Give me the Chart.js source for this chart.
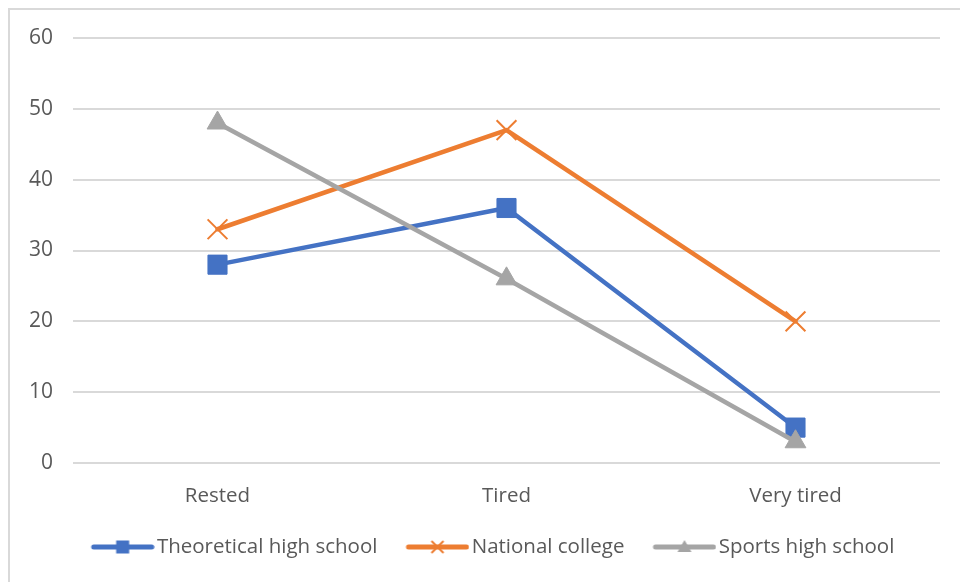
<!DOCTYPE html>
<html>
<head>
<meta charset="utf-8">
<script src="https://cdn.jsdelivr.net/npm/chart.js@4.4.1/dist/chart.umd.min.js"></script>
<style>
    html, body { margin: 0; padding: 0; background: #fff; overflow: hidden; }
    #marco { position: absolute; left: 8px; top: 8px; width: 1000px; height: 700px; border: 2px solid #d9d9d9; box-sizing: border-box; }
    #caja { position: absolute; left: 0; top: 0; width: 960px; height: 582px; }
</style>
</head>
<body>
<div id="marco"></div>
<div id="caja"><canvas id="grafico"></canvas></div>
<script>
// datos
const categorias = ["Rested", "Tired", "Very tired"];
const teorico = [28, 36, 5];
const nacional = [33, 47, 20];
const deportivo = [48, 26, 3];
const marcasY = [0, 10, 20, 30, 40, 50, 60];
const nombres = ["Theoretical high school", "National college", "Sports high school"];

const AZUL = "#4472c4";
const NARANJA = "#ed7d31";
const GRIS = "#a5a5a5";
const TEXTO = "#595959";
const FUENTE = { family: "'Open Sans', sans-serif", size: 20.5 };

// muestra de leyenda: linea + marcador, como en Excel
function muestraLeyenda(color, forma) {
    const c = document.createElement("canvas");
    c.width = 90;
    c.height = 22;
    const ctx = c.getContext("2d");
    const cx = 58, cy = 11;

    ctx.strokeStyle = color;
    ctx.fillStyle = color;
    ctx.lineCap = "round";
    ctx.lineWidth = 5;
    ctx.beginPath();
    ctx.moveTo(29, cy);
    ctx.lineTo(87, cy);
    ctx.stroke();

    if (forma === "rect") {
        ctx.fillRect(cx - 6.5, cy - 6.5, 13, 13);
    } else if (forma === "cruz") {
        ctx.lineWidth = 2;
        ctx.lineCap = "butt";
        ctx.beginPath();
        ctx.moveTo(cx - 6, cy - 6); ctx.lineTo(cx + 6, cy + 6);
        ctx.moveTo(cx - 6, cy + 6); ctx.lineTo(cx + 6, cy - 6);
        ctx.stroke();
    } else {
        ctx.beginPath();
        ctx.moveTo(cx, cy - 7);
        ctx.lineTo(cx + 7, cy + 5);
        ctx.lineTo(cx - 7, cy + 5);
        ctx.closePath();
        ctx.fill();
    }
    return c;
}

const muestras = [
    muestraLeyenda(AZUL, "rect"),
    muestraLeyenda(NARANJA, "cruz"),
    muestraLeyenda(GRIS, "tri")
];

function serie(nombre, datos, color, forma, radio, borde, orden) {
    return {
        label: nombre,
        data: datos,
        borderColor: color,
        backgroundColor: color,
        borderWidth: 4.5,
        borderCapStyle: "round",
        borderJoinStyle: "round",
        pointStyle: forma,
        pointRadius: radio,
        pointHoverRadius: radio,
        pointBorderWidth: borde,
        pointBackgroundColor: color,
        pointBorderColor: color,
        tension: 0,
        order: orden
    };
}

new Chart(document.getElementById("grafico"), {
    type: "line",
    data: {
        labels: categorias,
        datasets: [
            serie(nombres[0], teorico, AZUL, "rect", 13.5, 1, 2),
            serie(nombres[1], nacional, NARANJA, "crossRot", 14, 2, 1),
            serie(nombres[2], deportivo, GRIS, "triangle", 12, 1, 0)
        ]
    },
    options: {
        responsive: true,
        maintainAspectRatio: false,
        animation: false,
        layout: {
            padding: { left: 27, right: 20, top: 38, bottom: 14.75 }
        },
        scales: {
            x: {
                offset: true,
                grid: { display: false },
                border: { display: false },
                ticks: { color: TEXTO, font: FUENTE, padding: 13 },
                afterFit: s => { s.height = 63.75; }
            },
            y: {
                min: 0,
                max: 60,
                afterBuildTicks: s => { s.ticks = marcasY.map(v => ({ value: v })); },
                afterFit: s => { s.width = 46; },
                grid: { color: "#d9d9d9", lineWidth: 2, drawTicks: false },
                border: { display: false },
                ticks: { color: TEXTO, font: { family: FUENTE.family, size: 21 }, padding: 20 }
            }
        },
        plugins: {
            tooltip: { enabled: false },
            legend: {
                position: "bottom",
                labels: {
                    color: TEXTO,
                    font: FUENTE,
                    usePointStyle: true,
                    pointStyleWidth: 74,
                    padding: 10,
                    sort: (a, b) => a.datasetIndex - b.datasetIndex,
                    generateLabels: chart => {
                        const items = Chart.defaults.plugins.legend.labels.generateLabels(chart);
                        items.forEach(it => { it.pointStyle = muestras[it.datasetIndex]; });
                        return items;
                    }
                }
            }
        }
    }
});
</script>
</body>
</html>
